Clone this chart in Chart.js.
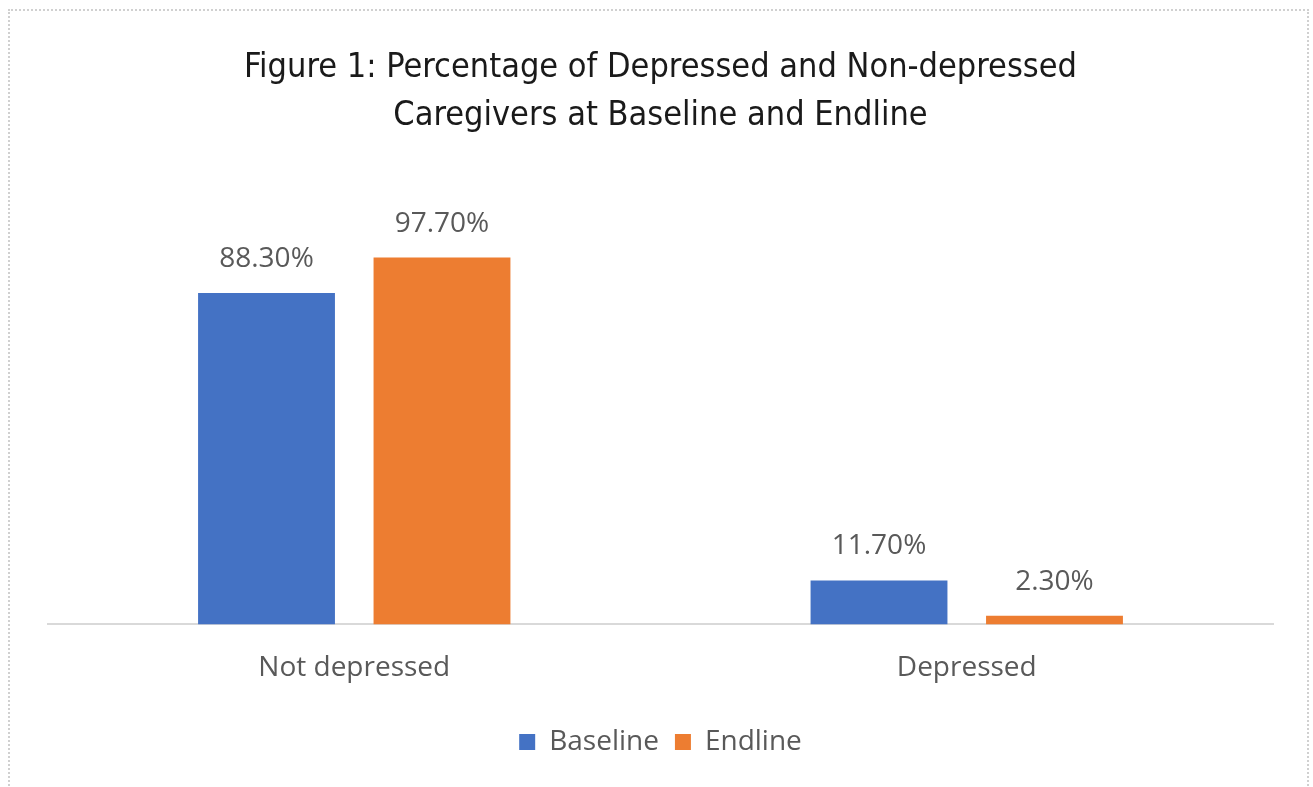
<!DOCTYPE html>
<html>
<head>
<meta charset="utf-8">
<script src="https://cdn.jsdelivr.net/npm/chart.js@4/dist/chart.umd.min.js"></script>
<style>
  html, body { margin: 0; padding: 0; background: #fff; }
  #wrap { position: relative; width: 1313px; height: 787px; }
  #frame { position: absolute; left: 8px; top: 9px; width: 1301px; height: 800px; border: 2px dotted #d0d0d0; box-sizing: border-box; pointer-events: none; }
</style>
</head>
<body>
<div id="wrap">
  <canvas id="mycanvas" width="1313" height="787"></canvas>
  <div id="frame"></div>
</div>
<script>
var categories = ['Not depressed', 'Depressed'];
var baseline = [88.3, 11.7];
var endline = [97.7, 2.3];
var seriesNames = ['Baseline', 'Endline'];
var titleLines = ['Figure 1: Percentage of Depressed and Non-depressed', 'Caregivers at Baseline and Endline'];

var labelFont = '"Open Sans", "Noto Sans", sans-serif';

// percentage labels over each bar
var barLabels = {
  id: 'barLabels',
  afterDatasetsDraw: function(chart) {
    var ctx = chart.ctx;
    ctx.save();
    ctx.font = '28px ' + labelFont;
    ctx.fillStyle = '#595959';
    ctx.textAlign = 'center';
    ctx.textBaseline = 'middle';
    chart.data.datasets.forEach(function(ds, i) {
      var meta = chart.getDatasetMeta(i);
      meta.data.forEach(function(bar, j) {
        ctx.fillText(ds.data[j].toFixed(2) + '%', bar.x, bar.y - 34);
      });
    });
    ctx.restore();
  }
};

var ctx = document.getElementById('mycanvas');
var chart = new Chart(ctx, {
  type: 'bar',
  data: {
    labels: categories,
    datasets: [
      { label: seriesNames[0], data: baseline, backgroundColor: '#4472C4', categoryPercentage: 0.573, barPercentage: 0.78 },
      { label: seriesNames[1], data: endline, backgroundColor: '#ED7D31', categoryPercentage: 0.573, barPercentage: 0.78 }
    ]
  },
  options: {
    responsive: false,
    animation: false,
    layout: { padding: { left: 48, right: 40, top: 0, bottom: 21 } },
    scales: {
      x: {
        grid: { display: false, drawTicks: false },
        border: { color: '#d9d9d9', width: 2 },
        ticks: { color: '#595959', padding: 27, font: { size: 28, family: labelFont } }
      },
      y: {
        display: false,
        min: 0,
        max: 120
      }
    },
    plugins: {
      title: {
        display: true,
        text: titleLines,
        color: '#1a1a1a',
        font: { size: 34, weight: 'normal', family: '"Liberation Sans Narrow", "DejaVu Sans Condensed", sans-serif', lineHeight: 1.41 },
        padding: { top: 44, bottom: 34 }
      },
      legend: {
        position: 'bottom',
        labels: {
          color: '#595959',
          boxWidth: 16,
          boxHeight: 16,
          padding: 16,
          font: { size: 28, family: labelFont }
        }
      },
      tooltip: { enabled: false }
    }
  },
  plugins: [barLabels]
});
</script>
</body>
</html>
